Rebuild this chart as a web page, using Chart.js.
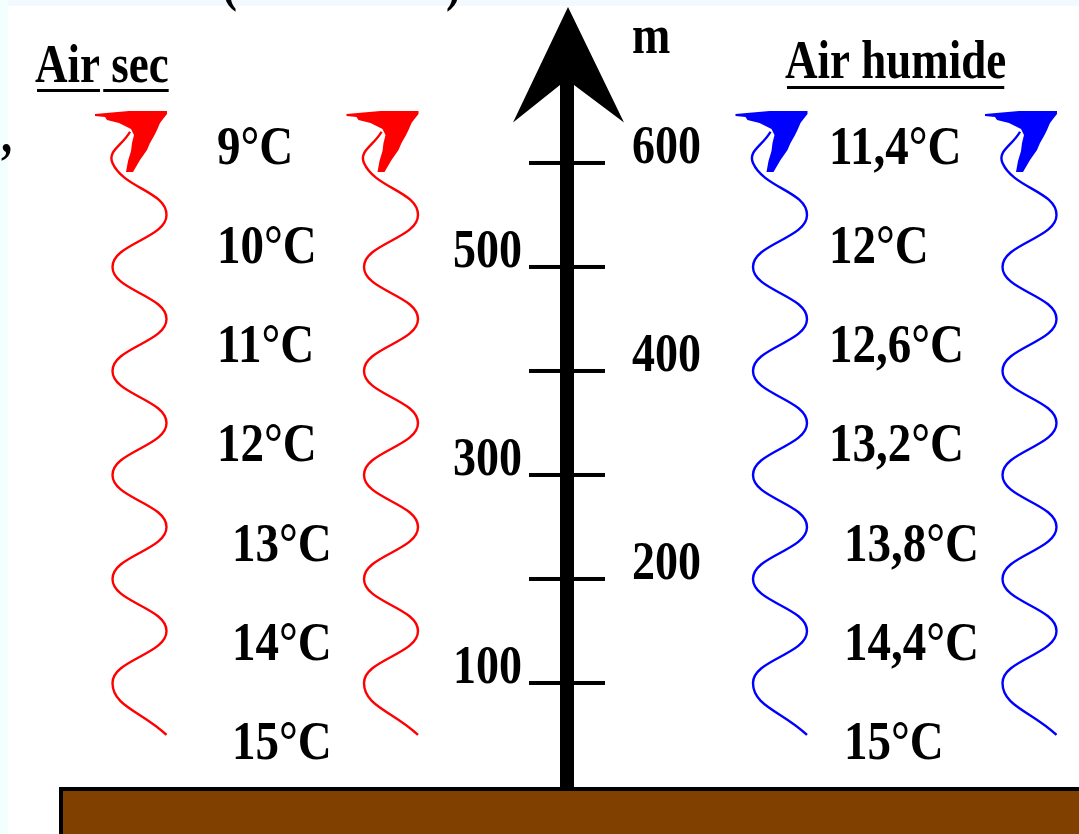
<!DOCTYPE html>
<html>
<head>
<meta charset="utf-8">
<title>Air sec / Air humide</title>
<script src="https://cdn.jsdelivr.net/npm/chart.js@4.4.0/dist/chart.umd.min.js"></script>
<style>
html, body { margin: 0; padding: 0; background: #fff; }
#wrap { width: 1079px; height: 834px; position: relative; }
</style>
</head>
<body>
<div id="wrap"><canvas id="chart"></canvas></div>
<script>
// altitudes (m) of the temperature rows, top to bottom
var altitudes = [600, 500, 400, 300, 200, 100, 0];
var tempDry = [9, 10, 11, 12, 13, 14, 15];
var tempHumid = [11.4, 12, 12.6, 13.2, 13.8, 14.4, 15];
// altitude axis
var axisTicks = [100, 200, 300, 400, 500, 600];
var axisUnit = 'm';
var titleDry = 'Air sec';
var titleHumid = 'Air humide';
// wavy arrows: turning points (altitude, side of the wave)
var waveAlt = [50, 100, 150, 200, 250, 300, 350, 400, 450, 500, 550, 600, 630];
var waveSide = [1, -1, 1, -1, 1, -1, 1, -1, 1, -1, 1, -1, -0.35];

var RED = '#ff0000', BLUE = '#0000ff';
var FONT = '"Liberation Serif", "Times New Roman", serif';

function fmt(v) {
    return String(v).replace('.', ',') + '°C';
}

function wave(cx, color) {
    return {
        data: waveAlt.map(function(a, i) { return { x: cx + waveSide[i] * 27, y: a }; }),
        showLine: true,
        borderColor: color,
        borderWidth: 2.4,
        pointRadius: 0,
        tension: 0.45,
        fill: false,
        xAxisID: 'x',
        yAxisID: 'y',
        arrowColor: color
    };
}

// text is a bit stretched vertically in the original
function txt(ctx, s, x, y, align, size, base, sy) {
    ctx.save();
    ctx.font = 'bold ' + size + 'px ' + FONT;
    ctx.textAlign = align;
    ctx.textBaseline = base || 'middle';
    ctx.fillStyle = '#000';
    ctx.translate(x, y);
    ctx.scale(1, sy || 1.2);
    ctx.fillText(s, 0, 0);
    ctx.restore();
}

// arrow head at the top of each wave, relative to its tip
var headShape = [[0,0],[-38,0],[-72,3],[-72,5],[-62,6],[-60,9],[-48,12],[-36,18],[-33,24],[-35,32],[-36,40],
                 [-39,50],[-41,61],[-34,61],[-27,49],[-20,39],[-17,32],[-13,25],[-10,19],[-7,12],[-4,8],[0,3]];

var diagram = {
    id: 'diagram',
    beforeDraw: function(chart) {
        var ctx = chart.ctx;
        ctx.save();
        ctx.fillStyle = '#ffffff';
        ctx.fillRect(0, 0, chart.width, chart.height);
        ctx.fillStyle = '#f2f9ff';
        ctx.fillRect(0, 0, chart.width, 6);
        ctx.fillStyle = '#f3ffff';
        ctx.fillRect(0, 0, 8, chart.height);
        ctx.restore();
    },
    beforeDatasetsDraw: function(chart) {
        var ctx = chart.ctx;
        var xs = chart.scales.x, ys = chart.scales.y, yt = chart.scales.yt;
        var ax = xs.getPixelForValue(567);
        var y0 = ys.getPixelForValue(0);
        var bottom = chart.chartArea.bottom;

        ctx.save();
        // ground
        var gx = xs.getPixelForValue(59);
        ctx.fillStyle = '#000';
        ctx.fillRect(gx, y0, chart.width - gx, bottom - y0);
        ctx.fillStyle = '#804000';
        ctx.fillRect(gx + 4, y0 + 4, chart.width - gx - 4, bottom - y0 - 4);

        // altitude axis: shaft, ticks, arrow head
        var topShaft = ys.getPixelForValue(675);
        ctx.fillStyle = '#000';
        ctx.fillRect(ax - 7, topShaft, 14, y0 - topShaft);
        axisTicks.forEach(function(t, i) {
            var py = ys.getPixelForValue(t);
            ctx.fillRect(ax - 38, py - 2, 76, 4);
            var left = (t / 100) % 2 === 1;
            txt(ctx, String(t), left ? ax - 45 : ax + 65, py - 14, left ? 'right' : 'left', 46);
        });
        var tip = ys.getPixelForValue(750), barb = ys.getPixelForValue(639);
        ctx.beginPath();
        ctx.moveTo(ax + 1, tip);
        ctx.lineTo(ax + 57, barb);
        ctx.lineTo(ax + 7, topShaft);
        ctx.lineTo(ax - 7, topShaft);
        ctx.lineTo(ax - 54, barb);
        ctx.closePath();
        ctx.fill();
        txt(ctx, axisUnit, ax + 65, ys.getPixelForValue(706), 'left', 46, 'alphabetic');

        // titles with underline
        ctx.font = 'bold 45px ' + FONT;
        var xDry = xs.getPixelForValue(35), xHum = xs.getPixelForValue(785);
        txt(ctx, titleDry, xDry, 82, 'left', 45, 'alphabetic');
        var wAir = ctx.measureText('Air').width, wSp = ctx.measureText('Air ').width;
        var wAll = ctx.measureText(titleDry).width;
        ctx.fillRect(xDry + 2, 89, wAir - 2, 3);
        ctx.fillRect(xDry + wSp - 8, 89, wAll - wSp + 8, 3);
        txt(ctx, titleHumid, xHum, 78, 'left', 45, 'alphabetic');
        ctx.fillRect(xHum + 2, 86, ctx.measureText(titleHumid).width - 4, 3);

        // temperatures
        altitudes.forEach(function(a, i) {
            var py = yt.getPixelForValue(a);
            var shift = a < 300 ? 15 : 0;
            txt(ctx, fmt(tempDry[i]), xs.getPixelForValue(217 + shift), py, 'left', 47, 'middle', 1.15);
            txt(ctx, fmt(tempHumid[i]), xs.getPixelForValue(829 + shift), py, 'left', 47, 'middle', 1.15);
        });

        // bits of text cut by the frame
        txt(ctx, '(', xs.getPixelForValue(222), 0, 'left', 45, 'alphabetic');
        txt(ctx, ')', xs.getPixelForValue(446), 0, 'left', 45, 'alphabetic');
        txt(ctx, ',', 1, 152, 'left', 45, 'alphabetic');
        ctx.restore();
    },
    afterDatasetsDraw: function(chart) {
        var ctx = chart.ctx;
        var xs = chart.scales.x, ys = chart.scales.y;
        ctx.save();
        chart.data.datasets.forEach(function(ds) {
            var cx = ds.data[0].x - 27;
            var tx = xs.getPixelForValue(cx + 27.5), ty = ys.getPixelForValue(650);
            ctx.fillStyle = ds.arrowColor;
            ctx.beginPath();
            headShape.forEach(function(p, i) {
                if (i === 0) ctx.moveTo(tx + p[0], ty + p[1]);
                else ctx.lineTo(tx + p[0], ty + p[1]);
            });
            ctx.closePath();
            ctx.fill();
        });
        ctx.restore();
    }
};

var chart = new Chart(document.getElementById('chart'), {
    type: 'scatter',
    data: {
        datasets: [
            wave(139.5, RED),
            wave(391, RED),
            wave(780, BLUE),
            wave(1029.5, BLUE)
        ]
    },
    options: {
        responsive: true,
        maintainAspectRatio: false,
        animation: false,
        layout: { padding: 0 },
        plugins: {
            legend: { display: false },
            tooltip: { enabled: false }
        },
        scales: {
            x: { type: 'linear', min: 0, max: 1079, display: false },
            y: { type: 'linear', min: -45.2, max: 756.7, display: false },
            yt: { type: 'linear', min: -89.7, max: 751.2, display: false }
        }
    },
    plugins: [diagram]
});
</script>
</body>
</html>
